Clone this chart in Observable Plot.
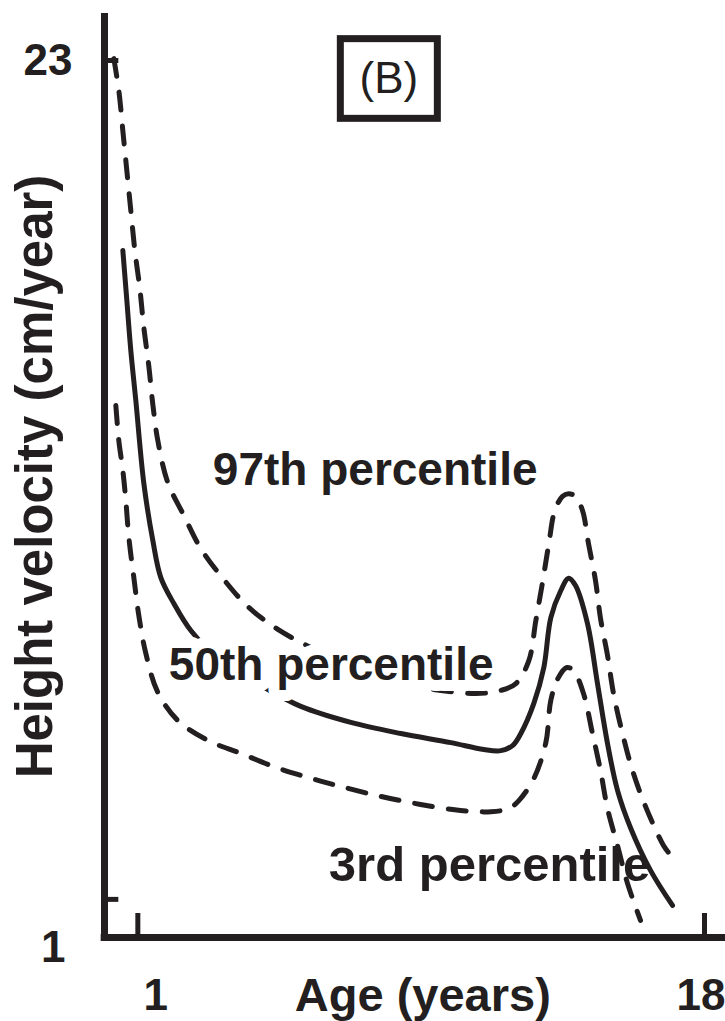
<!DOCTYPE html>
<html>
<head>
<meta charset="utf-8">
<script src="https://cdn.jsdelivr.net/npm/d3@7"></script>
<script src="https://cdn.jsdelivr.net/npm/@observablehq/plot@0.6"></script>
<style>
  html, body { margin: 0; padding: 0; background: white; }
  #chart svg { display: block; }
</style>
</head>
<body>
<div id="chart"></div>
<script>
// ---- Data (age in years, height velocity in cm/year) ----
const ages97 = [0.28, 0.43, 0.55, 0.67, 0.79, 0.91, 1.06, 1.18, 1.33, 1.45, 1.60, 1.90, 2.38, 2.89, 3.55, 4.30, 5.20, 6.49, 7.99, 9.19, 10.09, 11.14, 11.89, 12.34, 12.73, 12.94, 13.15, 13.33, 13.51, 13.74, 13.92, 14.13, 14.34, 14.52, 14.73, 14.88, 15.09, 15.27, 15.54, 15.84, 16.23, 16.77, 16.92];
const vel97  = [23.05, 22.21, 21.16, 20.11, 19.06, 18.02, 17.02, 16.00, 14.98, 13.98, 13.03, 11.93, 11.07, 10.20, 9.42, 8.68, 8.08, 7.48, 6.95, 6.61, 6.48, 6.40, 6.48, 6.66, 7.26, 8.31, 9.36, 10.33, 11.20, 11.57, 11.64, 11.57, 11.20, 10.33, 9.36, 8.37, 7.40, 6.40, 5.35, 4.38, 3.44, 2.41, 2.23];

const ages50 = [0.55, 0.67, 0.79, 0.94, 1.18, 1.45, 1.69, 2.08, 2.59, 3.49, 4.69, 5.89, 7.39, 8.89, 10.39, 11.38, 11.89, 12.25, 12.49, 12.88, 13.18, 13.39, 13.69, 13.92, 14.13, 14.49, 14.79, 15.09, 15.39, 15.78, 16.38, 17.04];
const vel50  = [18.02, 16.71, 15.39, 14.08, 11.91, 10.41, 9.44, 8.76, 8.05, 7.26, 6.61, 6.06, 5.64, 5.35, 5.11, 4.93, 4.90, 5.04, 5.35, 6.14, 7.08, 8.39, 9.10, 9.42, 9.23, 8.23, 6.66, 5.09, 3.86, 2.88, 1.76, 0.84];

const ages3 = [0.34, 0.43, 0.55, 0.64, 0.73, 0.88, 1.03, 1.24, 1.60, 2.20, 3.10, 4.09, 5.08, 6.10, 7.09, 8.29, 9.48, 10.68, 11.59, 12.13, 12.43, 12.88, 13.24, 13.39, 13.60, 13.87, 14.07, 14.37, 14.64, 14.88, 15.09, 15.39, 15.69, 16.08];
const vel3  = [13.95, 13.03, 12.25, 11.46, 10.49, 9.44, 8.44, 7.45, 6.43, 5.69, 5.17, 4.83, 4.48, 4.20, 3.96, 3.70, 3.49, 3.33, 3.30, 3.38, 3.59, 4.17, 5.11, 6.22, 6.79, 7.08, 7.00, 6.40, 5.35, 4.38, 3.38, 2.41, 1.42, 0.45];

const xTicks = [1, 18];
const xTickLabels = ["1", "18"];
const yTicks = [1, 23];
const yTickLabels = ["1", "23"];

const seriesNames = ["97th percentile", "50th percentile", "3rd percentile"];
const panelLabel = "(B)";
const xTitle = "Age (years)";
const yTitle = "Height velocity (cm/year)";

// ---- Build tables ----
const toRows = (xs, ys) => xs.map((x, i) => ({age: x, v: ys[i]}));
const rows97 = toRows(ages97, vel97);
const rows50 = toRows(ages50, vel50);
const rows3 = toRows(ages3, vel3);

const FONT = '"Liberation Sans", Arial, Helvetica, sans-serif';
const INK = "#231f20";
const dash = "18,16";

const chart = Plot.plot({
  width: 725,
  height: 1021,
  marginLeft: 104,
  marginRight: 0,
  marginTop: 60,
  marginBottom: 84,
  x: {domain: [0, 18.63], axis: null},
  y: {domain: [0, 23], axis: null},
  style: {fontFamily: FONT, background: "white", overflow: "visible", color: INK},
  marks: [
    // axes lines
    Plot.ruleX([0], {y1: -0.1, y2: 24.23, stroke: INK, strokeWidth: 7}),
    Plot.ruleY([0], {x1: -0.1, x2: 18.63, stroke: INK, strokeWidth: 7}),
    // inward ticks
    Plot.ruleX(xTicks, {x: d => d, y1: 0, y2: 0.63, stroke: INK, strokeWidth: 5}),
    Plot.ruleY(yTicks, {y: d => d, x1: 0, x2: 0.43, stroke: INK, strokeWidth: 5}),

    // curves
    Plot.line(rows97, {x: "age", y: "v", curve: "catmull-rom", stroke: INK, strokeWidth: 5, strokeDasharray: dash}),
    Plot.line(rows50, {x: "age", y: "v", curve: "catmull-rom", stroke: INK, strokeWidth: 5}),
    Plot.line(rows3, {x: "age", y: "v", curve: "catmull-rom", stroke: INK, strokeWidth: 5, strokeDasharray: dash}),

    // series labels
    Plot.text([seriesNames[0]], {x: 3.25, y: 12.25, text: d => d, textAnchor: "start", fontSize: 46, fontWeight: "bold", fill: INK}),
    Plot.text([seriesNames[1]], {x: 1.93, y: 7.13, text: d => d, textAnchor: "start", fontSize: 46, fontWeight: "bold", fill: INK, stroke: "white", strokeWidth: 22, strokeLinejoin: "round", paintOrder: "stroke"}),
    Plot.text([seriesNames[2]], {x: 6.73, y: 1.89, text: d => d, textAnchor: "start", fontSize: 49, fontWeight: "bold", fill: INK}),

    // panel label box
    Plot.rect([panelLabel], {x1: 7.09, x2: 10.0, y1: 21.47, y2: 23.56, fill: "white", stroke: INK, strokeWidth: 7}),
    Plot.text([panelLabel], {x: 8.53, y: 22.53, text: d => d, fontSize: 44, fill: INK}),

    // tick labels
    Plot.text(yTicks.filter(d => d === 23), {x: 0, y: d => d, text: d => yTickLabels[yTicks.indexOf(d)], textAnchor: "end", dx: -32, fontSize: 44, fontWeight: "bold", fill: INK}),
    Plot.text(yTicks.filter(d => d === 1), {x: 0, y: d => d, text: d => yTickLabels[yTicks.indexOf(d)], textAnchor: "end", dx: -39, dy: 49, fontSize: 44, fontWeight: "bold", fill: INK}),
    Plot.text(xTicks.filter(d => d === 1), {x: d => d, y: 0, text: d => xTickLabels[xTicks.indexOf(d)], dx: 18, dy: 58, fontSize: 44, fontWeight: "bold", fill: INK}),
    Plot.text(xTicks.filter(d => d === 18), {x: d => d, y: 0, text: d => xTickLabels[xTicks.indexOf(d)], textAnchor: "end", dx: 21, dy: 58, fontSize: 44, fontWeight: "bold", fill: INK}),

    // axis titles
    Plot.text([xTitle], {x: 9.55, y: 0, text: d => d, dy: 58, fontSize: 47, fontWeight: "bold", fill: INK}),
    Plot.text([yTitle], {x: 0, y: 12.09, text: d => d, rotate: -90, dx: -69, fontSize: 51, fontWeight: "bold", fill: INK})
  ]
});

document.getElementById("chart").appendChild(chart);
</script>
</body>
</html>
